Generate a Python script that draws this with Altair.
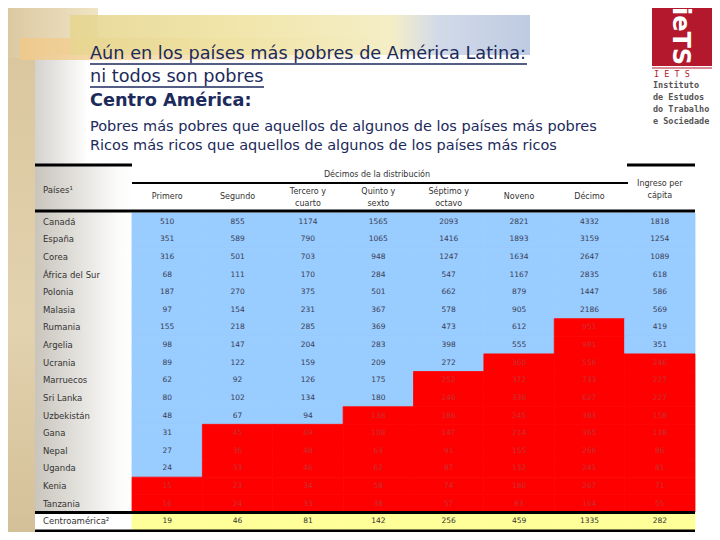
import altair as alt
import pandas as pd

# ---------------- data ----------------
columns = ["Primero", "Segundo", "Tercero y cuarto", "Quinto y sexto",
           "Séptimo y octavo", "Noveno", "Décimo", "Ingreso per cápita"]
header_single = ["Primero", "Segundo", "Noveno", "Décimo"]
header_double = {"Tercero y cuarto": "Tercero y\ncuarto",
                 "Quinto y sexto": "Quinto y\nsexto",
                 "Séptimo y octavo": "Séptimo y\noctavo"}
income_header = "Ingreso per\ncápita"

countries = ["Canadá", "España", "Corea", "África del Sur", "Polonia", "Malasia",
             "Rumania", "Argelia", "Ucrania", "Marruecos", "Sri Lanka", "Uzbekistán",
             "Gana", "Nepal", "Uganda", "Kenia", "Tanzania"]
reference_name = "Centroamérica²"

values = {
    "Canadá":         [510, 855, 1174, 1565, 2093, 2821, 4332, 1818],
    "España":         [351, 589, 790, 1065, 1416, 1893, 3159, 1254],
    "Corea":          [316, 501, 703, 948, 1247, 1634, 2647, 1089],
    "África del Sur": [68, 111, 170, 284, 547, 1167, 2835, 618],
    "Polonia":        [187, 270, 375, 501, 662, 879, 1447, 586],
    "Malasia":        [97, 154, 231, 367, 578, 905, 2186, 569],
    "Rumania":        [155, 218, 285, 369, 473, 612, 951, 419],
    "Argelia":        [98, 147, 204, 283, 398, 555, 981, 351],
    "Ucrania":        [89, 122, 159, 209, 272, 360, 556, 246],
    "Marruecos":      [62, 92, 126, 175, 252, 372, 733, 227],
    "Sri Lanka":      [80, 102, 134, 180, 246, 336, 627, 227],
    "Uzbekistán":     [48, 67, 94, 138, 186, 245, 383, 158],
    "Gana":           [31, 45, 69, 108, 147, 214, 365, 138],
    "Nepal":          [27, 36, 48, 63, 91, 155, 266, 86],
    "Uganda":         [24, 33, 46, 62, 87, 132, 241, 81],
    "Kenia":          [15, 23, 34, 58, 74, 180, 267, 71],
    "Tanzania":       [16, 24, 33, 38, 57, 83, 164, 55],
}
reference_values = [19, 46, 81, 142, 256, 459, 1335, 282]

row_order = countries + [reference_name]

records = []
for c in countries:
    for col, v, ref in zip(columns, values[c], reference_values):
        records.append({"pais": c, "col": col, "valor": v,
                        "cat": "menor" if v < ref else "mayor"})
for col, v in zip(columns, reference_values):
    records.append({"pais": reference_name, "col": col, "valor": v, "cat": "ref"})
df = pd.DataFrame(records)

# ---------------- scales ----------------
W, H = 704, 524
xscale = alt.Scale(domain=columns, range=[124, 687], paddingInner=0, paddingOuter=0)
yscale = alt.Scale(domain=row_order, range=[205, 522], paddingInner=0, paddingOuter=0)
FONT_T = "DejaVu Sans"
FONT = "DejaVu Sans"
one = pd.DataFrame({"a": [0]})
cats = ["mayor", "menor", "ref"]


def grad(stops, horizontal=True):
    return alt.Gradient(
        gradient="linear",
        stops=[alt.GradientStop(color=c, offset=o) for o, c in stops],
        x1=0, y1=0, x2=1 if horizontal else 0, y2=0 if horizontal else 1)


def box(x, x2, y, y2, color, opacity=1.0):
    return alt.Chart(one).mark_rect(color=color, opacity=opacity).encode(
        x=alt.value(x), x2=alt.value(x2), y=alt.value(y), y2=alt.value(y2))


def hline(x, x2, y, width=2, color="black"):
    return alt.Chart(one).mark_rule(color=color, strokeWidth=width).encode(
        x=alt.value(x), x2=alt.value(x2), y=alt.value(y))


def label(text, x, y, size, color, weight="normal", align="left", font=FONT_T, baseline="alphabetic"):
    return alt.Chart(one).mark_text(text=text, align=align, baseline=baseline, fontSize=size,
                                    color=color, fontWeight=weight, font=font).encode(
        x=alt.value(x), y=alt.value(y))


# ---------------- decoration ----------------
bg_left = box(0, 27, 0, H, grad([(0, "#d9c59c"), (0.6, "#e2d2ae"), (1, "#d4c098")], horizontal=False))
bg_topleft = box(0, 90, 0, 50, grad([(0, "#dcc9a2"), (1, "#efe4c4")]))
banner = box(62, 522, 7, 47, grad([(0, "#e6d590"), (0.35, "#efe2a0"), (0.7, "#f3ecc0"),
                                   (0.8, "#cdd6e6"), (1, "#b7c5df")]), 0.9)
orange_bar = box(12, 360, 30, 52, grad([(0, "#f0c888"), (0.6, "#f6e2b4"), (1, "#fbf5e6")]), 0.85)
shadow = box(27, 80, 47, 157, grad([(0, "#d4d2ce"), (1, "#ffffff")]))

TC = "#1c2a5c"
title1 = label("Aún en los países más pobres de América Latina:", 82, 51, 17.7, TC)
title2 = label("ni todos son pobres", 82, 74, 17.7, TC)
title3 = label("Centro América:", 82, 98, 17.7, TC, weight=600)
sub1 = label("Pobres más pobres que aquellos de algunos de los países más pobres", 82, 123, 14.5, TC)
sub2 = label("Ricos más ricos que aquellos de algunos de los países más ricos", 82, 142, 14.5, TC)
ul1 = hline(82, 519, 56, 1.5, TC)
ul2 = hline(82, 256, 79, 1.5, TC)

logo = box(644, 704, -3, 58, "#b3182d")
logo_txt = alt.Chart(one).mark_text(text="ieTS", angle=90, fontSize=24, fontWeight="bold",
                                    color="white", font=FONT_T, align="center", baseline="middle").encode(
    x=alt.value(672), y=alt.value(28))
logo_line = hline(644, 704, 60, 1, "#b3182d")
logo_iets = label("I  E  T  S", 646, 69, 8.5, "#b3182d", font="DejaVu Sans Mono")
logo_lines = [label(t, 645, y, 8.5, "#555555", font="DejaVu Sans Mono", weight="bold")
              for t, y in [("Instituto", 80), ("de Estudos", 92), ("do Trabalho", 104), ("e Sociedade", 116)]]

# ---------------- table ----------------
label_col = box(27, 124, 157, 504, grad([(0, "#c9c5bd"), (0.85, "#fbfbfa"), (1, "#ffffff")]))
top_left_rule = hline(27, 124, 157, 3)
top_right_rule = hline(619, 687, 157, 3)
dec_rule = hline(124, 620, 175, 2)
head_rule = hline(27, 687, 203, 3)
bottom_rule = hline(27, 687, 523, 3)
dec_title = label("Décimos de la distribución", 369, 169, 8, "#333333", align="center", font=FONT)
paises = label("Países¹", 35, 182, 8.5, "#333333", font=FONT, baseline="middle")

X = alt.X("col:N", scale=xscale, axis=None, sort=columns)
Y = alt.Y("pais:N", scale=yscale, axis=None, sort=row_order)
cell_scale = alt.Scale(domain=cats, range=["#99ccff", "#ff0000", "#ffff99"])
cells = alt.Chart(df).mark_rect(strokeWidth=0.8).encode(
    x=X, y=Y,
    color=alt.Color("cat:N", scale=cell_scale, legend=None),
    stroke=alt.Stroke("cat:N", scale=cell_scale, legend=None),
)
nums = alt.Chart(df).mark_text(fontSize=7.5, font=FONT, baseline="middle").encode(
    x=X, y=Y,
    text=alt.Text("valor:Q", format="d"),
    color=alt.Color("cat:N", scale=alt.Scale(domain=cats,
                                             range=["#3a3d55", "#c83232", "#333333"]), legend=None),
)
table = alt.layer(cells, nums).resolve_scale(color="independent")

names_df = pd.DataFrame({"pais": row_order})
names = alt.Chart(names_df).mark_text(align="left", baseline="middle", fontSize=8.5,
                                       font=FONT, color="#333333").encode(
    x=alt.value(35), y=Y, text="pais:N",
)
sep_rule = alt.Chart(pd.DataFrame({"pais": [reference_name]})).mark_rule(
    color="black", strokeWidth=3).encode(
    x=alt.value(27), x2=alt.value(687),
    y=alt.Y("pais:N", scale=yscale, axis=None, sort=row_order, bandPosition=0),
)

single_df = pd.DataFrame({"col": header_single})
heads1 = alt.Chart(single_df).mark_text(fontSize=8, font=FONT, color="#333333",
                                        baseline="middle").encode(
    x=X, y=alt.value(189), text="col:N",
)
double_df = pd.DataFrame({"col": list(header_double.keys()), "lab": list(header_double.values())})
heads2 = alt.Chart(double_df).mark_text(fontSize=8, font=FONT, color="#333333",
                                        lineBreak="\n", baseline="middle", lineHeight=12).encode(
    x=X, y=alt.value(184), text="lab:N",
)
inc_df = pd.DataFrame({"col": [columns[7]], "lab": [income_header]})
inc_head = alt.Chart(inc_df).mark_text(fontSize=8, font=FONT, color="#333333",
                                       lineBreak="\n", baseline="middle", lineHeight=12).encode(
    x=X, y=alt.value(176), text="lab:N",
)

chart = alt.layer(
    bg_left, bg_topleft, shadow, orange_bar, banner,
    title1, title2, title3, sub1, sub2, ul1, ul2,
    logo, logo_txt, logo_line, logo_iets, *logo_lines,
    label_col, table, names, heads1, heads2, inc_head,
    top_left_rule, top_right_rule, dec_rule, head_rule, sep_rule, bottom_rule,
    dec_title, paises,
).resolve_scale(color="independent").properties(
    width=W, height=H, background="white", padding=0, autosize="none"
).configure_view(stroke=None)

chart.save("out.html", embed_options={"renderer": "svg", "actions": False})
